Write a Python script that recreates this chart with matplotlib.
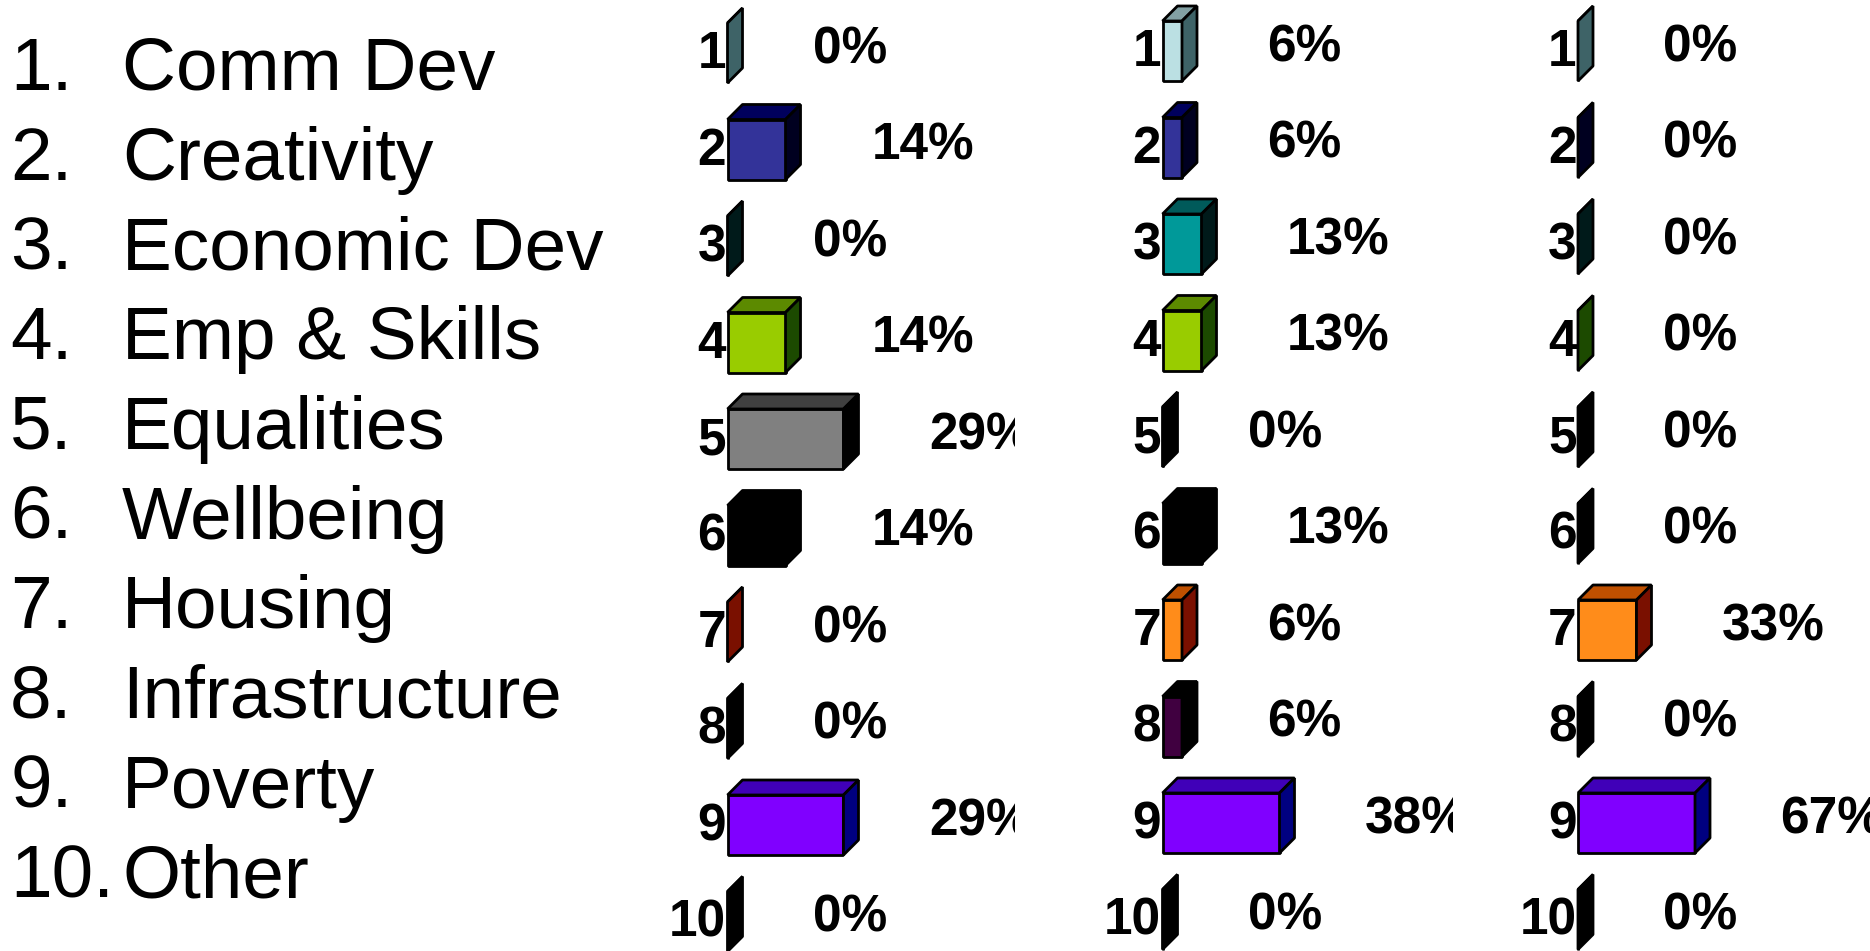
import matplotlib
matplotlib.use('Agg')
import matplotlib.pyplot as plt
from matplotlib.patches import Polygon

plt.rcParams['font.family'] = ['Liberation Sans', 'DejaVu Sans']

themes = ['Comm Dev', 'Creativity', 'Economic Dev', 'Emp & Skills', 'Equalities',
          'Wellbeing', 'Housing', 'Infrastructure', 'Poverty', 'Other']
rows = ['1', '2', '3', '4', '5', '6', '7', '8', '9', '10']

values_a = [0, 14.29, 0, 14.29, 28.57, 14.29, 0, 0, 28.57, 0]
values_b = [6.25, 6.25, 12.5, 12.5, 0, 12.5, 6.25, 6.25, 37.5, 0]
values_c = [0, 0, 0, 0, 0, 0, 33.33, 0, 66.67, 0]

labels_a = ['0%', '14%', '0%', '14%', '29%', '14%', '0%', '0%', '29%', '0%']
labels_b = ['6%', '6%', '13%', '13%', '0%', '13%', '6%', '6%', '38%', '0%']
labels_c = ['0%', '0%', '0%', '0%', '0%', '0%', '33%', '0%', '67%', '0%']

front = ['#BBE0E3', '#333399', '#009999', '#99CC00', '#808080',
         '#000000', '#FF8C1A', '#400040', '#8000FF', '#000000']
top = ['#82A0A3', '#00005C', '#005A5A', '#5C8A00', '#404040',
       '#000000', '#BF5000', '#000000', '#4000B8', '#000000']
side = ['#3E6367', '#000020', '#001A1A', '#1C4A00', '#000000',
        '#000000', '#7A1000', '#000000', '#000080', '#000000']

W, H = 1870, 951
PITCH = 96.5
DEPTH = 15
BAR_H = 60
LW = 2

fig = plt.figure(figsize=(W / 100, H / 100), dpi=100)


def panel(values, labels, left, right, centre, px_per_pct, gap):
    ax = fig.add_axes([left / W, 0, (right - left) / W, 1])
    ax.set_xlim(0, (right - left) / px_per_pct)
    ax.set_ylim((H - centre) / PITCH, -centre / PITCH)
    dx = DEPTH / px_per_pct
    dy = DEPTH / PITCH
    hh = BAR_H / PITCH / 2
    ax.barh(range(10), values, height=2 * hh, color=front, edgecolor='black', linewidth=LW,
            clip_on=False, joinstyle='bevel')
    for i, v in enumerate(values):
        ax.add_patch(Polygon([(0, i - hh), (dx, i - hh - dy), (v + dx, i - hh - dy), (v, i - hh)],
                             facecolor=top[i], edgecolor='black', linewidth=LW, clip_on=False,
                             joinstyle='bevel'))
        ax.add_patch(Polygon([(v, i - hh), (v + dx, i - hh - dy), (v + dx, i + hh - dy), (v, i + hh)],
                             facecolor=side[i], edgecolor='black', linewidth=LW, clip_on=False,
                             joinstyle='bevel'))
        ax.annotate(labels[i], xy=(v + dx, i - dy / 2), xytext=(gap, -3.2), textcoords='offset points',
                    fontsize=37, fontweight='bold', va='center', ha='left', clip_on=True)
    ax.set_yticks([i - 0.04 for i in range(10)], rows, fontsize=37, fontweight='bold')
    ax.set_xticks([])
    ax.tick_params(axis='y', length=0, pad=1)
    for s in ax.spines.values():
        s.set_visible(False)
    ax.patch.set_alpha(0)


panel(values_a, labels_a, 727.5, 1015, 53, 4.06, 51)
panel(values_b, labels_b, 1162.5, 1453, 51, 3.12, 50.5)
panel(values_c, labels_c, 1578, 1870, 51, 1.755, 50.5)

for i, name in enumerate(themes):
    y = 1 - (90 + 89.7 * i) / H
    fig.text(10 / W, y, f'{i + 1}.', fontsize=53.8, va='baseline', ha='left')
    fig.text(122 / W, y, name, fontsize=53.8, va='baseline', ha='left')

fig.savefig('out.png', dpi=100)
